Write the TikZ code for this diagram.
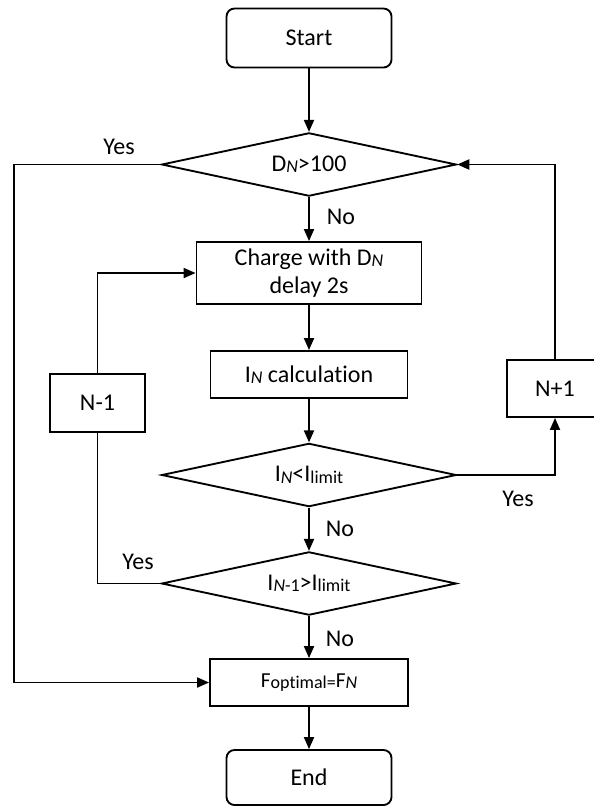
\documentclass[tikz,border=0pt]{standalone}
\usepackage{fontspec}
\setmainfont[Ligatures=NoCommon]{Carlito}
\usetikzlibrary{shapes.geometric,arrows.meta}
\newcommand{\lo}[1]{\raisebox{-1pt}{\fontsize{13.5}{13.5}\selectfont #1}}

\begin{document}
\begin{tikzpicture}[x=0.75pt,y=0.75pt,yscale=-1,xscale=1,
  line width=1.4pt, font=\fontsize{18}{21}\selectfont,
  term/.style={draw,rounded corners=6pt,minimum width=123.75pt,minimum height=44.25pt,inner sep=0pt},
  proc/.style={draw,inner sep=0pt,align=center},
  cond/.style={draw,diamond,aspect=4.67,inner sep=0pt,minimum width=221pt,minimum height=47.5pt},
  flow/.style={-{Triangle[length=9pt,width=7.5pt]}}]
\useasboundingbox (0,0) rectangle (593,807);

%Shape: Terminals
\node[term] (start) at (309,38) {Start};
\node[term,minimum height=41.25pt] (end) at (309,777.5) {End};

%Shape: Decisions
\node[cond] (dn) at (309,164.5) {D\lo{\textit{N}}>100};
\node[cond] (inlim) at (309,475) {I\lo{\textit{N}}<I\lo{limit}};
\node[cond] (inm1) at (309,583.5) {I\lo{\textit{N}-1}>I\lo{limit}};

%Shape: Process boxes
\node[proc,minimum width=168.75pt,minimum height=46.5pt] (charge) at (309,273) {Charge with D\lo{\textit{N}}\\delay 2s};
\node[proc,minimum width=147.75pt,minimum height=35.25pt] (calc) at (309,374.5) {I\lo{\textit{N}} calculation};
\node[proc,minimum width=148.5pt,minimum height=35.25pt,font=\fontsize{16}{19}\selectfont] (fopt) at (309,682.5) {F\lo{optimal=}F\lo{\textit{N}}};
\node[proc,minimum width=71.25pt,minimum height=43.5pt] (nm1) at (97.5,403) {N-1};
\node[proc,minimum width=72pt,minimum height=42.75pt] (np1) at (555,388.5) {N+1};

% Text Node
\node (yes1) at (119,147) {Yes};
\node (no1) at (341,217) {No};
\node (yes2) at (518,499) {Yes};
\node (no2) at (340,529) {No};
\node (yes3) at (138,562) {Yes};
\node (no3) at (340,639) {No};

%Connectors
\coordinate (lft) at (14,0);
\draw[flow] (start) -- (dn);
\draw[flow] (dn) -- (charge);
\draw[flow] (charge) -- (calc);
\draw[flow] (calc) -- (inlim);
\draw[flow] (inlim) -- (inm1);
\draw[flow] (inm1) -- (fopt);
\draw[flow] (fopt) -- (end);
\draw[flow] (dn.west) -- (dn.west -| lft) |- (fopt.west);
\draw (inm1.west) -| (nm1.south);
\draw[flow] (nm1.north) |- (charge.west);
\draw[flow] (inlim.east) -| (np1.south);
\draw[flow] (np1.north) |- (dn.east);

\end{tikzpicture}
\end{document}
